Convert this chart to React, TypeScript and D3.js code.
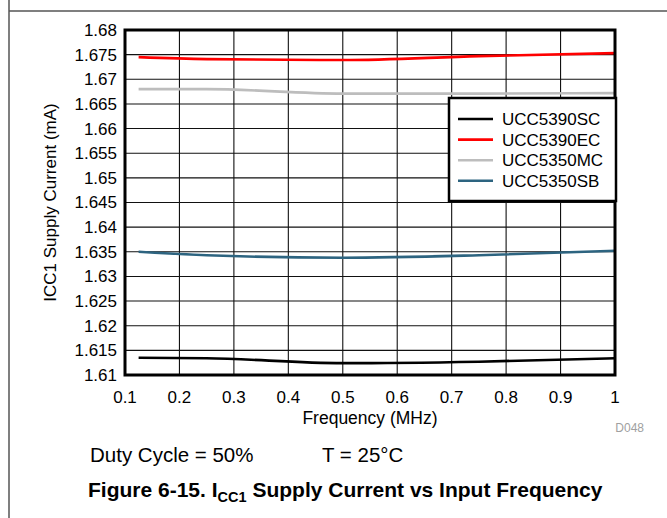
import React from "react";
import * as d3 from "d3";

const freq = [0.125, 0.25, 0.5, 0.75, 1];
const seriesNames = ["UCC5390SC", "UCC5390EC", "UCC5350MC", "UCC5350SB"];
const sc = [1.6135, 1.6134, 1.6124, 1.6127, 1.6134];
const ec = [1.6745, 1.6741, 1.6739, 1.6747, 1.6753];
const mc = [1.668, 1.668, 1.6671, 1.6671, 1.6672];
const sb = [1.635, 1.6343, 1.6338, 1.6343, 1.6352];
const seriesColors = ["#000000", "#ff0000", "#bdbdbd", "#2d6480"];
const xTicks = [0.1, 0.2, 0.3, 0.4, 0.5, 0.6, 0.7, 0.8, 0.9, 1];
const yTicks = [1.61, 1.615, 1.62, 1.625, 1.63, 1.635, 1.64, 1.645, 1.65, 1.655, 1.66, 1.665, 1.67, 1.675, 1.68];

const W = 667;
const H = 518;
const L = 125, R = 615, T = 30, B = 375;
const FONT = "Arial, 'Liberation Sans', sans-serif";

export default function App() {
  const x = d3.scaleLinear().domain([0.1, 1]).range([L, R]);
  const y = d3.scaleLinear().domain([1.61, 1.68]).range([B, T]);
  const allSeries = [sc, ec, mc, sb];
  const line = d3
    .line<number>()
    .x((_, i) => x(freq[i]))
    .y((d) => y(d))
    .curve(d3.curveMonotoneX);

  const legX = 449, legY = 98, legW = 167, legH = 103;

  return (
    <svg
      width={W}
      height={H}
      style={{ position: "absolute", left: 0, top: 0, background: "#fff" }}
      fontFamily={FONT}
    >
      <rect x={0} y={0} width={W} height={H} fill="#fff" />
      {/* frame */}
      <line x1={9} y1={0} x2={9} y2={H} stroke="#555" strokeWidth={1.5} />
      <line x1={9} y1={11} x2={W} y2={11} stroke="#555" strokeWidth={1.5} />

      {/* grid */}
      {xTicks.slice(1, -1).map((t) => (
        <line key={"gx" + t} x1={x(t)} x2={x(t)} y1={T} y2={B} stroke="#111" strokeWidth={1.1} />
      ))}
      {yTicks.slice(1, -1).map((t) => (
        <line key={"gy" + t} x1={L} x2={R} y1={y(t)} y2={y(t)} stroke="#111" strokeWidth={1.1} />
      ))}

      {/* series */}
      {allSeries.map((s, i) => (
        <path key={seriesNames[i]} d={line(s) || ""} fill="none" stroke={seriesColors[i]} strokeWidth={2.6} />
      ))}

      {/* plot border */}
      <rect x={L} y={T} width={R - L} height={B - T} fill="none" stroke="#000" strokeWidth={3} />

      {/* y tick labels */}
      {yTicks.map((t) => (
        <text key={"yl" + t} x={L - 8} y={y(t)} dy="0.35em" textAnchor="end" fontSize={17} fill="#000">
          {d3.format("")(+t.toFixed(3))}
        </text>
      ))}
      {/* x tick labels */}
      {xTicks.map((t) => (
        <text key={"xl" + t} x={x(t)} y={403} textAnchor="middle" fontSize={17} fill="#000">
          {d3.format("")(+t.toFixed(1))}
        </text>
      ))}

      <text x={(L + R) / 2} y={424} textAnchor="middle" fontSize={17.5}>Frequency (MHz)</text>
      <text
        transform={`translate(56, ${(T + B) / 2}) rotate(-90)`}
        textAnchor="middle"
        fontSize={17}
      >
        ICC1 Supply Current (mA)
      </text>
      <text x={644} y={432} textAnchor="end" fontSize={12} fill="#a0a0a0">D048</text>

      {/* legend */}
      <rect x={legX} y={legY} width={legW} height={legH} fill="#fff" stroke="#000" strokeWidth={2.5} />
      {seriesNames.map((n, i) => {
        const cy = 119 + i * 20.6;
        return (
          <g key={"lg" + n}>
            <line x1={458} x2={493} y1={cy} y2={cy} stroke={seriesColors[i]} strokeWidth={2.6} />
            <text x={502} y={cy} dy="0.35em" fontSize={17}>{n}</text>
          </g>
        );
      })}

      {/* notes */}
      <text x={90} y={462} fontSize={20.5}>Duty Cycle = 50%</text>
      <text x={322} y={462} fontSize={20.5}>T = 25°C</text>
      <text x={88} y={497} fontSize={21} fontWeight="bold">
        Figure 6-15. I<tspan fontSize={14.5} dy={4.5}>CC1</tspan>
        <tspan dy={-4.5}> Supply Current vs Input Frequency</tspan>
      </text>
    </svg>
  );
}
